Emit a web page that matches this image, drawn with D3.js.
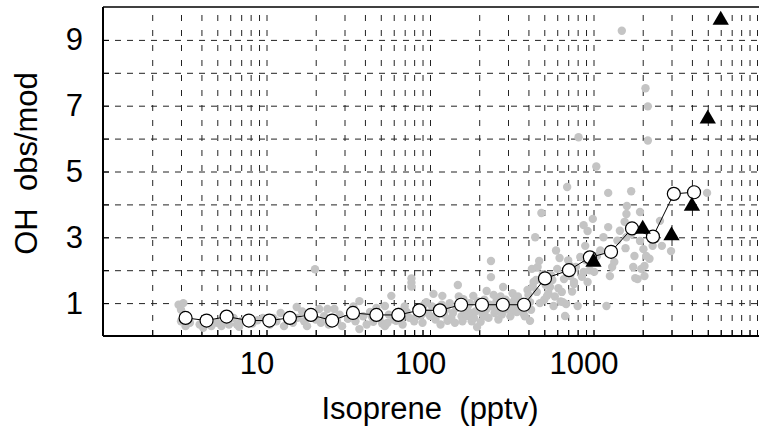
<!DOCTYPE html>
<html>
<head>
<meta charset="utf-8">
<script src="https://cdn.jsdelivr.net/npm/d3@7"></script>
<style>
    body { margin: 0; background: #fff; }
    svg { display: block; font-family: "Liberation Sans", Arial, sans-serif; }
</style>
</head>
<body>
<svg id="chart" width="763" height="432"></svg>
<script>
"use strict";

const xTickLabels = [10, 100, 1000];
const yTickLabels = [1, 3, 5, 7, 9];

// binned values (open circles joined by line)
const binIso = [3.2, 4.3, 5.7, 7.8, 10.4, 13.9, 18.7, 25.2, 33.8, 47, 64, 86, 115, 155, 208,
    279, 376, 505, 708, 950, 1280, 1720, 2310, 3100, 4120];
const binRatio = [0.55, 0.47, 0.59, 0.47, 0.47, 0.55, 0.64, 0.47, 0.70, 0.64, 0.64, 0.78, 0.78, 0.95, 0.95,
    0.95, 0.95, 1.75, 2.0, 2.39, 2.56, 3.27, 3.02, 4.32, 4.37];

// black triangles
const triIso = [1000, 2000, 3000, 4000, 5000, 6000];
const triRatio = [2.25, 3.25, 3.05, 3.95, 6.6, 9.6];

// individual measurements [isoprene, obs/mod]
const grayDots = [
    [2.9, 0.95], [3.0, 0.8], [3.1, 0.65], [3.0, 0.45], [3.2, 0.3], [3.3, 0.55], [3.1, 1.0], [3.4, 0.4],
    [3.9, 0.35], [4.1, 0.25], [4.3, 0.5], [4.6, 0.3], [4.2, 0.42],
    [5.0, 0.4], [5.3, 0.3], [5.6, 0.45], [5.9, 0.35],
    [6.3, 0.55], [6.6, 0.35], [7.0, 0.45], [6.8, 0.28],
    [7.6, 0.5], [8.2, 0.38], [8.8, 0.48], [9.5, 0.55],
    [10.5, 0.35], [11, 0.55], [11.5, 0.45], [12.2, 0.7], [12.8, 0.3], [13.5, 0.5], [14, 0.62], [14.5, 0.4],
    [15.3, 0.88], [15.5, 0.55], [16.5, 0.75], [17, 0.45], [17.7, 0.3], [18.5, 0.6], [19.8, 2.03], [20, 0.5],
    [21, 0.82], [21.5, 0.4], [22.5, 0.6], [23.6, 0.82], [24, 0.35], [25, 0.55], [26, 0.82], [27, 0.45], [28, 0.65],
    [29, 0.3], [31.5, 0.52], [33, 0.7], [34, 0.9], [35, 0.45], [37, 0.21], [37, 1.06], [39, 0.6], [41, 0.35],
    [43, 0.73], [44, 0.6], [45, 0.43], [47, 0.85], [49, 0.55], [51, 0.38], [53, 0.3], [53, 0.91], [55, 0.4],
    [56, 0.65], [58, 1.22], [60, 0.5], [62, 0.46], [65, 0.75], [66, 0.58], [68, 0.35], [70, 0.9], [72, 0.73],
    [75, 0.55], [77, 1.5], [77, 1.62], [77, 1.75], [80, 0.45], [83, 0.61], [86, 0.85], [88, 0.62], [90, 0.4],
    [92, 0.95], [95, 1.03], [97, 0.7],
    [100, 0.61], [103, 0.9], [105, 1.28], [108, 0.5], [110, 0.68], [112, 0.8], [116, 0.35], [118, 0.95],
    [119, 1.22], [122, 0.65], [126, 0.82], [128, 0.46], [132, 1.0], [135, 0.55], [138, 0.7], [142, 0.4],
    [145, 0.85], [148, 1.55], [150, 1.2], [152, 0.9], [156, 0.6], [158, 0.45], [160, 1.12], [165, 0.8],
    [168, 0.61], [170, 0.9], [175, 1.0], [178, 0.7], [180, 0.45], [184, 1.22], [186, 0.55], [190, 0.75],
    [194, 0.27], [196, 1.05], [200, 0.95], [204, 0.43], [206, 0.78], [210, 0.65], [215, 1.1], [218, 0.6],
    [222, 0.82], [222, 1.37], [228, 0.55], [232, 0.95], [236, 2.28], [236, 1.79], [240, 0.9], [245, 1.25],
    [248, 0.7], [255, 1.06], [258, 0.8], [262, 0.5], [270, 1.2], [275, 0.65], [280, 1.49], [285, 0.8],
    [290, 1.1], [295, 0.82], [300, 1.0], [305, 0.85],
    [310, 0.6], [315, 1.0], [320, 1.3], [325, 0.75], [330, 1.12], [335, 0.95], [340, 0.73], [345, 1.2],
    [350, 0.9], [360, 0.85], [365, 1.05], [372, 0.7], [380, 0.6], [388, 0.95], [395, 1.4], [400, 1.25],
    [409, 0.46], [409, 1.03], [415, 0.8], [420, 2.04], [425, 1.5], [430, 1.64], [440, 3.0], [445, 1.7],
    [450, 1.34], [455, 2.1], [465, 2.28], [470, 1.0], [480, 3.74], [490, 1.88], [500, 1.1], [510, 1.55],
    [520, 1.22], [530, 1.3], [542, 1.49], [550, 1.85], [570, 0.91], [560, 1.7], [580, 1.2], [590, 2.6],
    [600, 2.04], [610, 1.45], [620, 2.37], [630, 1.05],
    [640, 1.34], [650, 1.03], [660, 1.73], [680, 0.97], [670, 0.61], [690, 4.53], [700, 2.3], [720, 2.13],
    [740, 1.35], [760, 1.64], [780, 2.1], [800, 0.91], [720, 1.82], [760, 1.58], [810, 6.04], [830, 2.4],
    [850, 1.8], [870, 3.37], [870, 1.95], [890, 2.74], [900, 2.3], [920, 3.19], [920, 1.64], [950, 2.0],
    [990, 3.56], [1010, 1.95], [1040, 5.15], [1050, 2.43],
    [1100, 2.6], [1150, 3.0], [1200, 0.91], [1230, 4.35], [1230, 3.31], [1260, 1.82], [1300, 2.1],
    [1340, 2.25], [1400, 2.9], [1450, 3.2], [1490, 9.28], [1550, 3.47], [1570, 2.67], [1590, 3.71],
    [1590, 3.0], [1600, 3.95], [1700, 4.4], [1700, 3.1], [1750, 2.1], [1780, 2.43], [1800, 1.76],
    [1860, 1.73], [1925, 3.77], [1925, 2.89], [1960, 2.04], [2020, 2.64], [2050, 2.13], [2050, 1.82],
    [2080, 7.53], [2100, 2.43], [2150, 6.98], [2150, 5.94], [2200, 2.35], [2300, 2.74], [2400, 2.95],
    [2550, 3.5], [2620, 2.74], [2980, 2.58], [4950, 4.35]
];

(function () {
    window.addEventListener("load", init);

    function init() {
        const left = 103, right = 757, top = 7, bottom = 336;
        const svg = d3.select("#chart");

        const x = d3.scaleLog().domain([1, 10000]).range([left, right]);
        const y = d3.scaleLinear().domain([0, 10]).range([bottom, top]);

        // dashed grid
        const gx = svg.append("g")
            .attr("transform", `translate(0,${bottom})`)
            .call(d3.axisBottom(x)
                .tickValues(x.ticks().filter(v => v > 1))
                .tickSize(-(bottom - top))
                .tickFormat(""));
        gx.select(".domain").remove();
        gx.selectAll("line")
            .attr("stroke", "#222")
            .attr("stroke-dasharray", "6,9");

        const gy = svg.append("g")
            .attr("transform", `translate(${left},0)`)
            .call(d3.axisLeft(y)
                .tickValues(d3.range(1, 10))
                .tickSize(-(right - left))
                .tickFormat(""));
        gy.select(".domain").remove();
        gy.selectAll("line")
            .attr("stroke", "#222")
            .attr("stroke-dasharray", "6,6");

        // small inward ticks
        const tx = svg.append("g")
            .attr("transform", `translate(0,${bottom})`)
            .call(d3.axisBottom(x).tickValues(x.ticks()).tickSize(-6).tickFormat(""));
        tx.select(".domain").remove();
        tx.selectAll("line").attr("stroke", "#000");

        const ty = svg.append("g")
            .attr("transform", `translate(${left},0)`)
            .call(d3.axisLeft(y).tickValues(d3.range(1, 10)).tickSize(-6).tickFormat(""));
        ty.select(".domain").remove();
        ty.selectAll("line").attr("stroke", "#000");

        // frame
        svg.append("line")
            .attr("x1", left).attr("x2", right + 2)
            .attr("y1", top).attr("y2", top)
            .attr("stroke", "#000").attr("stroke-width", 1.5);
        svg.append("line")
            .attr("x1", left).attr("x2", left)
            .attr("y1", top).attr("y2", bottom)
            .attr("stroke", "#000").attr("stroke-width", 2);
        svg.append("line")
            .attr("x1", left).attr("x2", right + 2)
            .attr("y1", bottom).attr("y2", bottom)
            .attr("stroke", "#000").attr("stroke-width", 2);

        // tick labels
        const lx = svg.append("g")
            .attr("transform", `translate(0,${bottom})`)
            .call(d3.axisBottom(x)
                .tickValues(xTickLabels)
                .tickFormat(d3.format("d"))
                .tickSize(0)
                .tickPadding(16));
        lx.select(".domain").remove();
        lx.selectAll("text")
            .attr("dx", -10)
            .attr("fill", "#000")
            .style("font-size", "31px")
            .style("font-family", "Liberation Sans, Arial, sans-serif");

        const ly = svg.append("g")
            .attr("transform", `translate(${left},0)`)
            .call(d3.axisLeft(y)
                .tickValues(yTickLabels)
                .tickFormat(d3.format("d"))
                .tickSize(0)
                .tickPadding(20));
        ly.select(".domain").remove();
        ly.selectAll("text")
            .attr("fill", "#000")
            .style("font-size", "31px")
            .style("font-family", "Liberation Sans, Arial, sans-serif");

        // axis titles
        svg.append("text")
            .attr("x", (left + right) / 2)
            .attr("y", 419)
            .attr("text-anchor", "middle")
            .style("font-size", "31px")
            .style("white-space", "pre")
            .text("Isoprene  (pptv)");

        svg.append("text")
            .attr("transform", `translate(37,${(top + bottom) / 2 - 8}) rotate(-90)`)
            .attr("text-anchor", "middle")
            .style("font-size", "31px")
            .style("white-space", "pre")
            .text("OH  obs/mod");

        // gray points
        svg.append("g")
            .selectAll("circle")
            .data(grayDots)
            .enter()
            .append("circle")
            .attr("cx", d => x(d[0]))
            .attr("cy", d => y(d[1]))
            .attr("r", 4.2)
            .attr("fill", "#c4c4c4");

        // binned line + open circles
        const bins = binIso.map((v, i) => [v, binRatio[i]]);
        svg.append("path")
            .datum(bins)
            .attr("d", d3.line().x(d => x(d[0])).y(d => y(d[1])))
            .attr("fill", "none")
            .attr("stroke", "#000")
            .attr("stroke-width", 1);

        svg.append("g")
            .selectAll("circle")
            .data(bins)
            .enter()
            .append("circle")
            .attr("cx", d => x(d[0]))
            .attr("cy", d => y(d[1]))
            .attr("r", 6.5)
            .attr("fill", "#fff")
            .attr("stroke", "#000")
            .attr("stroke-width", 1.2);

        // triangles
        const tris = triIso.map((v, i) => [v, triRatio[i]]);
        svg.append("g")
            .selectAll("path")
            .data(tris)
            .enter()
            .append("path")
            .attr("transform", d => `translate(${x(d[0])},${y(d[1])})`)
            .attr("d", d3.symbol().type(d3.symbolTriangle).size(115))
            .attr("fill", "#000");
    }
})();
</script>
</body>
</html>
